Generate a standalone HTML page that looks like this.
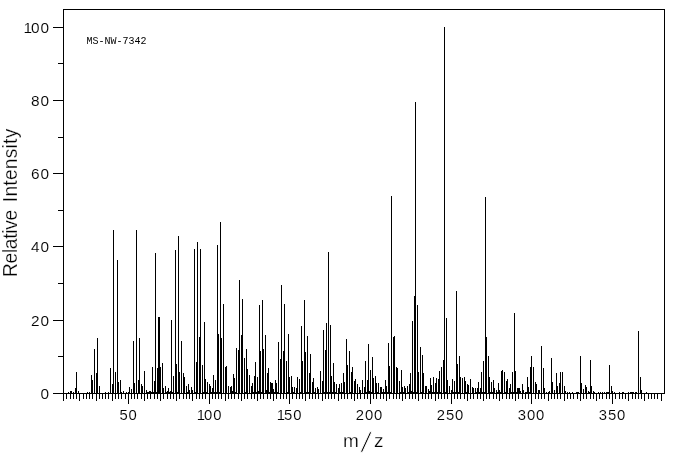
<!DOCTYPE html>
<html><head><meta charset="utf-8"><title>MS-NW-7342</title>
<style>
html,body{margin:0;padding:0;background:#fff;}
body{width:676px;height:455px;position:relative;overflow:hidden;font-family:"Liberation Sans",sans-serif;color:#000;}
svg{position:absolute;left:0;top:0;}
.yl,.xl{-webkit-text-stroke:0.1px #fff;}
.yl{position:absolute;left:0;width:50px;text-align:right;font-size:14px;line-height:16px;height:16px;letter-spacing:0.8px;transform:scaleX(1.1);transform-origin:100% 50%;}
.xl{position:absolute;top:407px;width:41px;text-align:center;font-size:14px;line-height:16px;height:16px;letter-spacing:0.8px;transform:scaleX(1.06);transform-origin:50% 50%;}
.one{margin-right:-1.6px;}
#id{position:absolute;left:86.6px;top:36px;font-family:"Liberation Mono",monospace;font-size:10px;line-height:12px;white-space:nowrap;}
#mz{position:absolute;left:0;top:0;}
#mz span{position:absolute;white-space:nowrap;-webkit-text-stroke:0.25px #fff;}
#mz .m{left:343px;top:430px;font-size:19px;line-height:22px;}
#mz .s{left:362px;top:428px;font-size:28px;line-height:30px;transform:skewX(-11deg);-webkit-text-stroke:0.9px #fff;}
#mz .z{left:374px;top:430px;font-size:19px;line-height:22px;}
#ri{word-spacing:2.6px;-webkit-text-stroke:0.25px #fff;position:absolute;left:0;top:0;font-size:20px;line-height:20px;white-space:nowrap;transform-origin:0 0;letter-spacing:0.12px;transform:translate(0px,277px) rotate(-90deg) scale(0.955,1);}
</style></head><body>
<svg width="676" height="455" viewBox="0 0 676 455" shape-rendering="crispEdges">
<rect x="63.5" y="9.5" width="601" height="384" fill="none" stroke="#000" stroke-width="1"/>
<path d="M53 393.5H63M58 356.5H63M53 320.5H63M58 283.5H63M53 246.5H63M58 210.5H63M53 173.5H63M58 137.5H63M53 100.5H63M58 63.5H63M53 27.5H63" stroke="#000" stroke-width="1" fill="none"/>
<path d="M63.5 394v7M66.5 394v5M70.5 394v5M73.5 394v5M76.5 394v5M79.5 394v7M83.5 394v5M86.5 394v5M89.5 394v5M92.5 394v5M96.5 394v7M99.5 394v5M102.5 394v5M105.5 394v5M108.5 394v5M112.5 394v7M115.5 394v5M118.5 394v5M121.5 394v5M125.5 394v5M128.5 394v10M131.5 394v5M134.5 394v5M137.5 394v5M141.5 394v5M144.5 394v7M147.5 394v5M150.5 394v5M154.5 394v5M157.5 394v5M160.5 394v7M163.5 394v5M167.5 394v5M170.5 394v5M173.5 394v5M176.5 394v7M179.5 394v5M183.5 394v5M186.5 394v5M189.5 394v5M192.5 394v7M196.5 394v5M199.5 394v5M202.5 394v5M205.5 394v5M209.5 394v10M212.5 394v5M215.5 394v5M218.5 394v5M221.5 394v5M225.5 394v7M228.5 394v5M231.5 394v5M234.5 394v5M238.5 394v5M241.5 394v7M244.5 394v5M247.5 394v5M251.5 394v5M254.5 394v5M257.5 394v7M260.5 394v5M263.5 394v5M267.5 394v5M270.5 394v5M273.5 394v7M276.5 394v5M280.5 394v5M283.5 394v5M286.5 394v5M289.5 394v10M292.5 394v5M296.5 394v5M299.5 394v5M302.5 394v5M305.5 394v7M309.5 394v5M312.5 394v5M315.5 394v5M318.5 394v5M322.5 394v7M325.5 394v5M328.5 394v5M331.5 394v5M334.5 394v5M338.5 394v7M341.5 394v5M344.5 394v5M347.5 394v5M351.5 394v5M354.5 394v7M357.5 394v5M360.5 394v5M364.5 394v5M367.5 394v5M370.5 394v10M373.5 394v5M376.5 394v5M380.5 394v5M383.5 394v5M386.5 394v7M389.5 394v5M393.5 394v5M396.5 394v5M399.5 394v5M402.5 394v7M405.5 394v5M409.5 394v5M412.5 394v5M415.5 394v5M418.5 394v7M422.5 394v5M425.5 394v5M428.5 394v5M431.5 394v5M435.5 394v7M438.5 394v5M441.5 394v5M444.5 394v5M447.5 394v5M451.5 394v10M454.5 394v5M457.5 394v5M460.5 394v5M464.5 394v5M467.5 394v7M470.5 394v5M473.5 394v5M477.5 394v5M480.5 394v5M483.5 394v7M486.5 394v5M489.5 394v5M493.5 394v5M496.5 394v5M499.5 394v7M502.5 394v5M506.5 394v5M509.5 394v5M512.5 394v5M515.5 394v7M518.5 394v5M522.5 394v5M525.5 394v5M528.5 394v5M531.5 394v10M535.5 394v5M538.5 394v5M541.5 394v5M544.5 394v5M548.5 394v7M551.5 394v5M554.5 394v5M557.5 394v5M560.5 394v5M564.5 394v7M567.5 394v5M570.5 394v5M573.5 394v5M577.5 394v5M580.5 394v7M583.5 394v5M586.5 394v5M590.5 394v5M593.5 394v5M596.5 394v7M599.5 394v5M602.5 394v5M606.5 394v5M609.5 394v5M612.5 394v10M615.5 394v5M619.5 394v5M622.5 394v5M625.5 394v5M628.5 394v7M632.5 394v5M635.5 394v5M638.5 394v5M641.5 394v5M644.5 394v7M648.5 394v5M651.5 394v5M654.5 394v5M657.5 394v5M661.5 394v7" stroke="#000" stroke-width="1" fill="none"/>
<path d="M68.5 392V394M70.5 391V394M71.5 391V394M73.5 392V394M75.5 388V394M76.5 372V394M78.5 391V394M87.5 392V394M89.5 392V394M91.5 375V394M92.5 380V394M94.5 349V394M96.5 373V394M97.5 338V394M99.5 386V394M105.5 392V394M108.5 392V394M110.5 368V394M112.5 384V394M113.5 230V394M115.5 372V394M117.5 260V394M118.5 382V394M120.5 380V394M121.5 392V394M123.5 391V394M126.5 392V394M128.5 392V394M129.5 387V394M131.5 389V394M133.5 341V394M134.5 383V394M136.5 230V394M138.5 380V394M139.5 338V394M141.5 384V394M142.5 386V394M144.5 371V394M146.5 390V394M147.5 392V394M148.5 392V394M149.5 391V394M150.5 391V394M151.5 392V394M152.5 367V394M153.5 392V394M154.5 381V394M155.5 253V394M156.5 392V394M157.5 368V394M158.5 317V394M159.5 317V394M160.5 367V394M162.5 363V394M163.5 388V394M165.5 386V394M166.5 392V394M167.5 391V394M168.5 388V394M169.5 392V394M170.5 391V394M171.5 320V394M172.5 392V394M173.5 376V394M175.5 250V394M176.5 364V394M177.5 392V394M178.5 236V394M179.5 372V394M181.5 341V394M183.5 373V394M184.5 377V394M186.5 386V394M187.5 392V394M188.5 384V394M189.5 390V394M191.5 387V394M192.5 390V394M194.5 249V394M195.5 392V394M196.5 362V394M197.5 242V394M199.5 337V394M200.5 249V394M202.5 365V394M203.5 392V394M204.5 322V394M205.5 379V394M206.5 392V394M207.5 382V394M209.5 384V394M210.5 386V394M211.5 392V394M212.5 388V394M213.5 375V394M214.5 392V394M215.5 380V394M216.5 392V394M217.5 245V394M218.5 334V394M219.5 392V394M220.5 222V394M221.5 338V394M223.5 304V394M225.5 367V394M226.5 366V394M228.5 386V394M230.5 387V394M231.5 386V394M232.5 391V394M233.5 374V394M234.5 378V394M235.5 392V394M236.5 348V394M238.5 350V394M239.5 280V394M241.5 335V394M242.5 299V394M244.5 358V394M245.5 392V394M246.5 349V394M247.5 369V394M249.5 375V394M251.5 386V394M252.5 383V394M253.5 392V394M254.5 376V394M255.5 362V394M256.5 392V394M257.5 377V394M258.5 391V394M259.5 305V394M260.5 351V394M261.5 392V394M262.5 300V394M263.5 349V394M265.5 335V394M266.5 390V394M267.5 373V394M268.5 368V394M269.5 392V394M270.5 382V394M271.5 383V394M272.5 383V394M273.5 389V394M274.5 392V394M275.5 380V394M276.5 383V394M277.5 392V394M278.5 342V394M280.5 359V394M281.5 285V394M283.5 351V394M284.5 304V394M286.5 361V394M287.5 392V394M288.5 334V394M289.5 377V394M291.5 376V394M292.5 387V394M293.5 392V394M294.5 387V394M296.5 388V394M297.5 377V394M299.5 379V394M300.5 392V394M301.5 326V394M302.5 361V394M304.5 300V394M305.5 352V394M306.5 392V394M307.5 336V394M308.5 392V394M309.5 373V394M310.5 354V394M312.5 382V394M313.5 378V394M314.5 392V394M315.5 388V394M317.5 387V394M318.5 389V394M320.5 371V394M322.5 381V394M323.5 330V394M324.5 392V394M325.5 350V394M326.5 323V394M327.5 392V394M328.5 252V394M329.5 392V394M330.5 325V394M331.5 376V394M332.5 392V394M333.5 363V394M334.5 382V394M335.5 392V394M336.5 384V394M338.5 388V394M339.5 384V394M340.5 392V394M341.5 383V394M342.5 392V394M343.5 373V394M344.5 382V394M346.5 339V394M347.5 365V394M349.5 351V394M350.5 392V394M351.5 372V394M352.5 367V394M354.5 381V394M355.5 379V394M357.5 384V394M359.5 387V394M360.5 390V394M362.5 380V394M364.5 387V394M365.5 361V394M366.5 392V394M367.5 380V394M368.5 344V394M369.5 391V394M370.5 370V394M371.5 392V394M372.5 357V394M373.5 378V394M375.5 376V394M376.5 383V394M377.5 392V394M378.5 383V394M380.5 387V394M381.5 387V394M382.5 392V394M383.5 389V394M384.5 392V394M385.5 380V394M386.5 386V394M387.5 392V394M388.5 343V394M389.5 366V394M390.5 392V394M391.5 196V394M393.5 337V394M394.5 336V394M396.5 367V394M397.5 368V394M399.5 381V394M400.5 392V394M401.5 370V394M402.5 387V394M403.5 392V394M404.5 386V394M405.5 388V394M407.5 386V394M408.5 392V394M409.5 384V394M410.5 373V394M411.5 391V394M412.5 321V394M413.5 392V394M414.5 296V394M415.5 102V394M416.5 392V394M417.5 305V394M418.5 372V394M420.5 347V394M421.5 392V394M422.5 355V394M423.5 373V394M425.5 386V394M426.5 386V394M428.5 389V394M429.5 391V394M430.5 378V394M431.5 385V394M432.5 392V394M433.5 377V394M434.5 392V394M435.5 383V394M436.5 378V394M437.5 392V394M438.5 379V394M439.5 371V394M440.5 392V394M441.5 367V394M443.5 360V394M444.5 27V394M445.5 392V394M446.5 318V394M447.5 380V394M449.5 386V394M451.5 390V394M452.5 379V394M453.5 392V394M454.5 381V394M455.5 392V394M456.5 291V394M457.5 364V394M458.5 392V394M459.5 356V394M460.5 377V394M462.5 378V394M464.5 377V394M465.5 381V394M466.5 392V394M467.5 384V394M468.5 385V394M470.5 379V394M472.5 387V394M473.5 388V394M475.5 388V394M476.5 392V394M477.5 388V394M478.5 382V394M479.5 392V394M480.5 388V394M481.5 372V394M482.5 392V394M483.5 361V394M484.5 392V394M485.5 197V394M486.5 337V394M488.5 356V394M489.5 377V394M490.5 392V394M491.5 382V394M492.5 392V394M493.5 380V394M494.5 388V394M496.5 390V394M497.5 392V394M498.5 383V394M499.5 390V394M500.5 392V394M501.5 371V394M502.5 370V394M504.5 372V394M505.5 392V394M506.5 381V394M507.5 379V394M509.5 388V394M510.5 384V394M511.5 392V394M512.5 372V394M513.5 392V394M514.5 313V394M515.5 371V394M516.5 392V394M517.5 388V394M518.5 388V394M519.5 388V394M520.5 391V394M522.5 384V394M523.5 390V394M525.5 392V394M526.5 392V394M527.5 377V394M528.5 387V394M529.5 392V394M530.5 367V394M531.5 356V394M533.5 367V394M535.5 382V394M536.5 384V394M538.5 390V394M539.5 390V394M541.5 346V394M543.5 368V394M544.5 388V394M546.5 392V394M548.5 392V394M549.5 391V394M551.5 358V394M552.5 382V394M554.5 390V394M556.5 373V394M557.5 386V394M559.5 383V394M560.5 372V394M562.5 372V394M564.5 386V394M565.5 391V394M567.5 392V394M569.5 392V394M572.5 392V394M576.5 392V394M577.5 392V394M578.5 392V394M580.5 356V394M581.5 383V394M583.5 389V394M585.5 385V394M586.5 387V394M588.5 391V394M589.5 392V394M590.5 360V394M591.5 386V394M593.5 391V394M594.5 392V394M598.5 392V394M600.5 392V394M602.5 392V394M604.5 392V394M606.5 392V394M607.5 392V394M608.5 392V394M609.5 365V394M611.5 386V394M612.5 391V394M614.5 392V394M619.5 392V394M622.5 392V394M623.5 392V394M628.5 392V394M630.5 392V394M631.5 392V394M632.5 392V394M633.5 392V394M635.5 392V394M636.5 392V394M638.5 331V394M640.5 377V394M641.5 390V394M646.5 392V394" stroke="#000" stroke-width="1" fill="none"/>
</svg>
<div class="yl" style="top:386px">0</div><div class="yl" style="top:313px">20</div><div class="yl" style="top:239px">40</div><div class="yl" style="top:166px">60</div><div class="yl" style="top:93px">80</div><div class="yl" style="top:20px"><span class="one">1</span>00</div>
<div class="xl" style="left:107.5px">50</div><div class="xl" style="left:189px"><span class="one">1</span>00</div><div class="xl" style="left:269px"><span class="one">1</span>50</div><div class="xl" style="left:348.5px">200</div><div class="xl" style="left:429.5px">250</div><div class="xl" style="left:510.5px">300</div><div class="xl" style="left:591.5px">350</div>
<div id="id">MS-NW-7342</div>
<div id="mz"><span class="m">m</span><span class="s">/</span><span class="z">z</span></div>
<div id="ri"><span style="letter-spacing:-0.28px">Relative</span> <span style="letter-spacing:0.3px">Intensity</span></div>
</body></html>
